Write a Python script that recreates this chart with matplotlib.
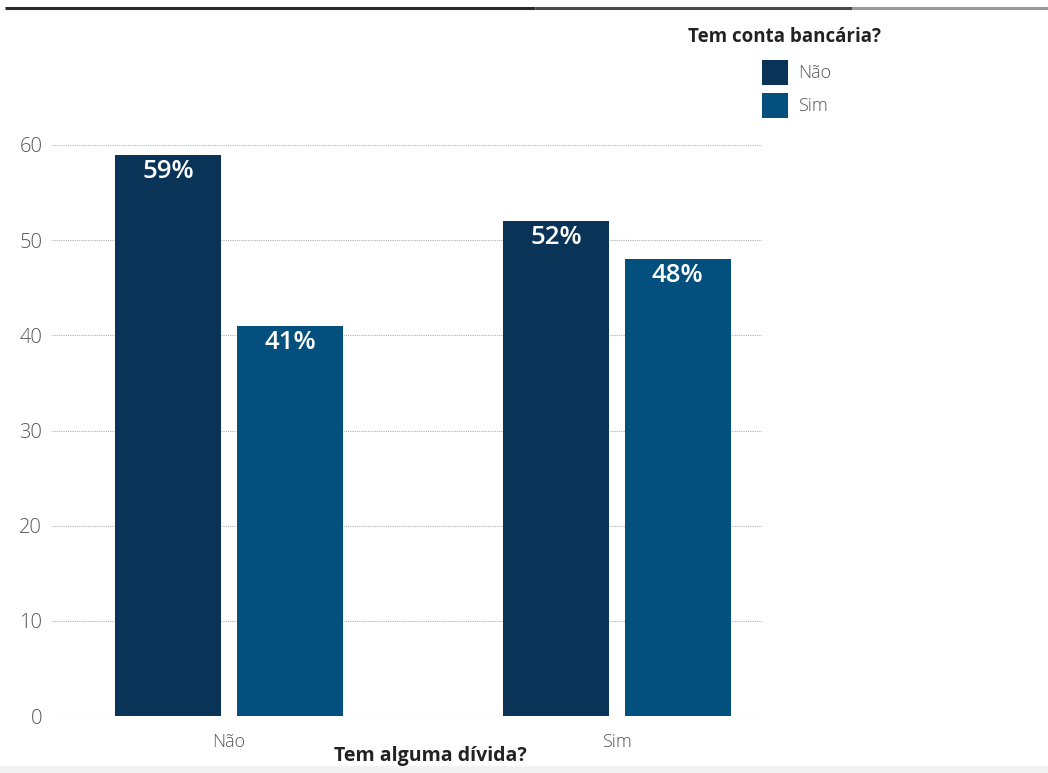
import matplotlib
matplotlib.use("Agg")
import matplotlib.pyplot as plt
from matplotlib.lines import Line2D
from matplotlib.patches import Patch, Rectangle
import numpy as np

plt.rcParams['font.family'] = ['Open Sans', 'DejaVu Sans']

# Data
divida = ["Não", "Sim"]                 # Tem alguma dívida?
series_labels = ["Não", "Sim"]          # Tem conta bancária?
conta_nao = [59, 52]                    # share without bank account, per debt group
conta_sim = [41, 48]                    # share with bank account, per debt group
yticks = [0, 10, 20, 30, 40, 50, 60]

dark = "#0a3457"
light = "#03507e"

fig = plt.figure(figsize=(10.48, 7.73), dpi=100)
ax = fig.add_axes([52/1048, 1 - 716/773, 710/1048, (716 - 145)/773])

x = np.arange(len(divida))
w = 0.273
off = 0.157

b1 = ax.bar(x - off, conta_nao, width=w, color=dark, zorder=3)
b2 = ax.bar(x + off, conta_sim, width=w, color=light, zorder=3)

for bars in (b1, b2):
    for r in bars:
        h = r.get_height()
        ax.text(r.get_x() + r.get_width() / 2, h - 0.45, f"{h:.0f}%",
                ha="center", va="top", color="white", fontsize=18.5,
                fontweight="semibold", zorder=4)

ax.set_ylim(0, 60)
ax.set_xlim(-0.456, 1.374)
ax.set_yticks(yticks)
ax.set_yticklabels([str(t) for t in yticks])
ax.set_xticks(x)
ax.set_xticklabels(divida)

ax.yaxis.grid(True, color="#b0b0b0", linestyle=(0, (1, 1)), linewidth=0.8, zorder=0)
ax.set_axisbelow(True)
for s in ax.spines.values():
    s.set_visible(False)
ax.tick_params(axis="both", length=0, labelsize=13, labelcolor="#555555")
ax.tick_params(axis="y", labelsize=14.5, pad=7)
ax.tick_params(axis="x", pad=12)
for t in ax.get_xticklabels() + ax.get_yticklabels():
    t.set_fontweight("light")

ax.set_xlabel("Tem alguma dívida?", fontsize=14, fontweight="bold", color="#222222")
ax.xaxis.set_label_coords((430 - 52) / 710, -0.053)

handles = [Patch(facecolor=dark, label=series_labels[0]),
           Patch(facecolor=light, label=series_labels[1])]
leg = fig.legend(handles=handles, loc="upper left",
                 bbox_to_anchor=(749/1048, 1 - 47/773), frameon=False,
                 fontsize=13, handlelength=1.45, handleheight=1.75,
                 handletextpad=0.55, labelspacing=0.45, borderpad=0.2)
for t in leg.get_texts():
    t.set_color("#555555")
    t.set_fontweight("light")
fig.text(688/1048, 1 - 37/773, "Tem conta bancária?", fontsize=13.5,
         fontweight="bold", color="#222222", va="center", ha="left")

# top rule and bottom band
for x0, x1, c in [(5, 535, "#2a2a2a"), (535, 852, "#4a4a4a"), (852, 1048, "#9a9a9a")]:
    fig.add_artist(Line2D([x0/1048, x1/1048], [1 - 8/773, 1 - 8/773], color=c,
                          linewidth=2.2, solid_capstyle="butt",
                          transform=fig.transFigure))
fig.add_artist(Rectangle((0, 0), 1, 7/773, transform=fig.transFigure,
                         facecolor="#f2f2f2", edgecolor="none"))

fig.savefig("out.png", dpi=100)
